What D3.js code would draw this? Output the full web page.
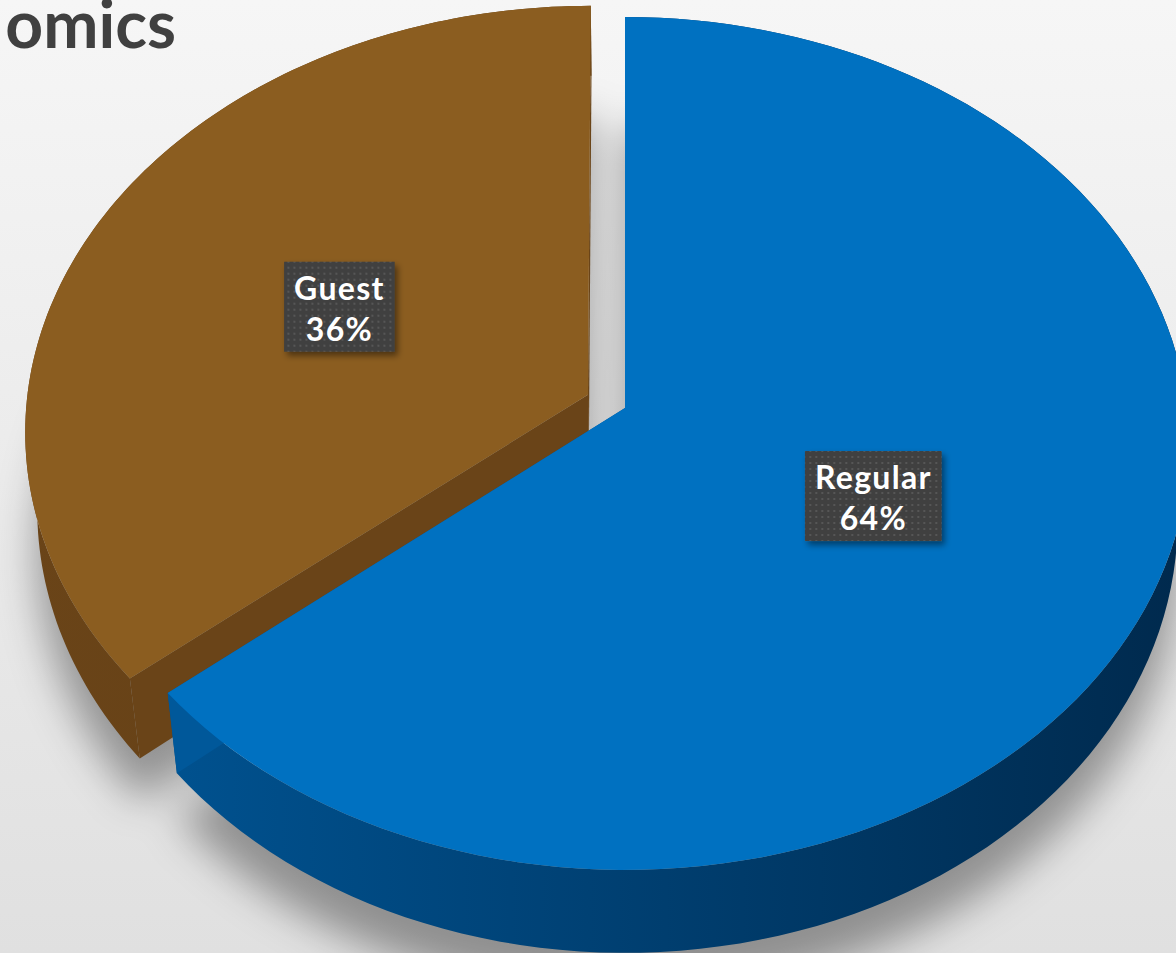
<!DOCTYPE html>
<html><head><meta charset="utf-8">
<script src="https://cdn.jsdelivr.net/npm/d3@7"></script>
<style>html,body{margin:0;padding:0;overflow:hidden;background:#efefef}</style>
</head><body>
<script>
// ---- data ----
const categories = ["Regular", "Guest"];
const values = [64, 36];
const percentLabels = ["64%", "36%"];
const titleText = "omics";

// ---- style / geometry ----
const W = 1176, H = 953;
const CX = 625, CY = 408, A = 562, B = 423.5, K = 0.0832, DEPTH = 76, CONV = 0.02;
const explode = [0, 0.073];
const topColors = ["#0071C1", "#8B5D20"];
const wallDark = [["#00589a", "#002a4e"], ["#6a4418", "#5d3b13"]];

function proj(u, v, z) {
  const den = 1 + K * v;
  let x = CX + A * u / den;
  const y = CY - B * v / den + DEPTH * z / den;
  x += (CX - x) * CONV * z;
  return [x, y];
}

const svg = d3.select("body").append("svg").attr("width", W).attr("height", H);
const defs = svg.append("defs");

const bg = defs.append("linearGradient").attr("id", "bg").attr("x1", 0).attr("y1", 0).attr("x2", 0).attr("y2", 1);
bg.append("stop").attr("offset", 0).attr("stop-color", "#f6f6f6");
bg.append("stop").attr("offset", 1).attr("stop-color", "#e0e0e0");
svg.append("rect").attr("width", W).attr("height", H).attr("fill", "url(#bg)");

defs.append("filter").attr("id", "blur").attr("x", "-20%").attr("y", "-20%").attr("width", "140%").attr("height", "140%")
  .append("feGaussianBlur").attr("stdDeviation", 20);
const ds = defs.append("filter").attr("id", "boxshadow").attr("x", "-20%").attr("y", "-20%").attr("width", "150%").attr("height", "150%");
ds.append("feDropShadow").attr("dx", 3).attr("dy", 4).attr("stdDeviation", 3).attr("flood-color", "#000").attr("flood-opacity", 0.45);
const pat = defs.append("pattern").attr("id", "dots").attr("width", 6).attr("height", 6).attr("patternUnits", "userSpaceOnUse");
pat.append("rect").attr("width", 6).attr("height", 6).attr("fill", "#404040");
pat.append("rect").attr("x", 2).attr("y", 2).attr("width", 2).attr("height", 2).attr("fill", "#575757");

wallDark.forEach((c, i) => {
  const g = defs.append("linearGradient").attr("id", "wall" + i).attr("gradientUnits", "userSpaceOnUse")
    .attr("x1", 0).attr("y1", 0).attr("x2", W).attr("y2", 0);
  g.append("stop").attr("offset", 0).attr("stop-color", c[0]);
  g.append("stop").attr("offset", 1).attr("stop-color", c[1]);
});

const pie = d3.pie().sort(null).startAngle(0).endAngle(2 * Math.PI);
const arcs = pie(values);
const line = d3.line();

function sliceGeom(d, i) {
  const mid = (d.startAngle + d.endAngle) / 2;
  const u0 = explode[i] * Math.sin(mid), v0 = explode[i] * Math.cos(mid);
  const ts = d3.range(0, 121).map(k => d.startAngle + (d.endAngle - d.startAngle) * k / 120);
  const rim = ts.map(t => [u0 + Math.sin(t), v0 + Math.cos(t)]);
  return {u0, v0, mid, rim};
}

// shadow
const shadowG = svg.append("g").attr("filter", "url(#blur)").attr("transform", "translate(0,42)");
arcs.forEach((d, i) => {
  const g = sliceGeom(d, i);
  const pts = [proj(g.u0, g.v0, 1)].concat(g.rim.map(p => proj(p[0], p[1], 1)));
  shadowG.append("path").attr("d", line(pts) + "Z").attr("fill", "#000").attr("opacity", 0.36);
});

// draw slices back (Guest) first then Regular
const order = [1, 0];
order.forEach(i => {
  const d = arcs[i];
  const g = sliceGeom(d, i);
  const G = svg.append("g");
  const topPts = g.rim.map(p => proj(p[0], p[1], 0));
  const botPts = g.rim.map(p => proj(p[0], p[1], 1)).reverse();
  G.append("path").attr("d", line(topPts.concat(botPts)) + "Z").attr("fill", `url(#wall${i})`);
  [d.startAngle, d.endAngle].forEach(t => {
    const r = [g.u0 + Math.sin(t), g.v0 + Math.cos(t)];
    const pts = [proj(g.u0, g.v0, 0), proj(r[0], r[1], 0), proj(r[0], r[1], 1), proj(g.u0, g.v0, 1)];
    G.append("path").attr("d", line(pts) + "Z").attr("fill", wallDark[i][0]);
  });
  const face = [proj(g.u0, g.v0, 0)].concat(topPts);
  G.append("path").attr("d", line(face) + "Z").attr("fill", topColors[i]);
});

// labels
const labelR = [0.48, 0.5];
arcs.forEach((d, i) => {
  const g = sliceGeom(d, i);
  const [lx, ly] = proj(g.u0 + labelR[i] * Math.sin(g.mid), g.v0 + labelR[i] * Math.cos(g.mid), 0);
  const lg = svg.append("g").attr("transform", `translate(${lx},${ly})`);
  const box = lg.append("rect").attr("fill", "url(#dots)").attr("filter", "url(#boxshadow)");
  const t = lg.append("text").attr("text-anchor", "middle").attr("fill", "#fff")
    .attr("font-family", "Lato, 'Open Sans', sans-serif").attr("font-weight", 700).attr("font-size", 32)
    .attr("letter-spacing", 1.3);
  t.append("tspan").attr("x", 0).attr("y", -7).text(categories[i]);
  t.append("tspan").attr("x", 0).attr("y", 34).text(percentLabels[i]);
  const w = t.node().getBBox().width + 20;
  box.attr("x", -w / 2).attr("y", -45).attr("width", w).attr("height", 90);
});

// title (cropped at the left edge as in the reference)
svg.append("text").attr("x", 176).attr("y", 48).attr("text-anchor", "end")
  .attr("font-family", "Lato, 'Open Sans', sans-serif").attr("font-weight", 700).attr("font-size", 66)
  .attr("fill", "#404040").text(titleText);
</script>
</body></html>
